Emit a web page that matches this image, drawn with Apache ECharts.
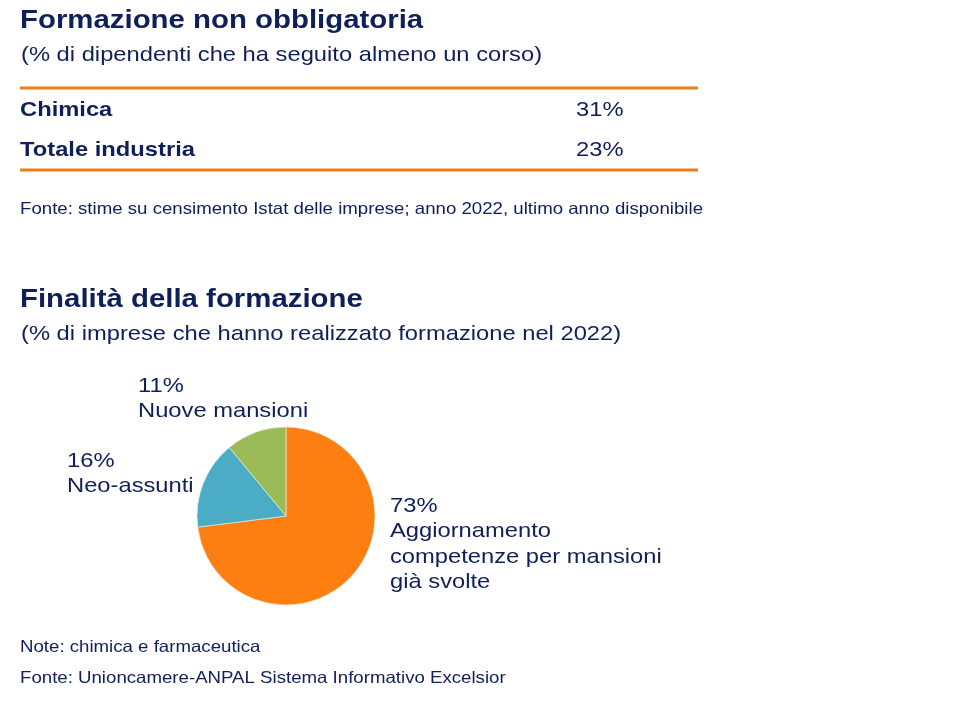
<!DOCTYPE html>
<html><head><meta charset="utf-8">
<script src="https://cdn.jsdelivr.net/npm/echarts@6/dist/echarts.min.js"></script>
<style>html,body{margin:0;padding:0;background:#fff}#c{width:960px;height:720px}</style>
</head><body><div id="c"></div>
<script>
const tableRows = ['Chimica', 'Totale industria'];
const tableValues = [31, 23];
const pieCategories = ['Aggiornamento\ncompetenze per mansioni\ngià svolte', 'Neo-assunti', 'Nuove mansioni'];
const pieValues = [73, 16, 11];

const NAVY = '#0f1f5a';
const ORANGE = '#ea7d1e';
const FONT = '"Liberation Sans", Arial, sans-serif';
const SX = 1.13;
const pieColors = ['#fd7f11', '#4bacc6', '#9bbb59'];
const labelPos = [[390, 493], [67, 448], [138, 373]];

function txt(x, y, text, font, extra) {
  return Object.assign({type:'text', x:x, y:y, scaleX:SX, originX:0, originY:0,
    style:Object.assign({text:text, font:font, fill:NAVY, textVerticalAlign:'top'}, extra || {})});
}

const chart = echarts.init(document.getElementById('c'));
const graphics = [
  txt(20, 8, 'Formazione non obbligatoria', 'bold 26px '+FONT),
  txt(21, 45, '(% di dipendenti che ha seguito almeno un corso)', '21px '+FONT),
  {type:'line', shape:{x1:20, y1:88, x2:698, y2:88}, style:{stroke:ORANGE, lineWidth:3}},
  {type:'line', shape:{x1:20, y1:170, x2:698, y2:170}, style:{stroke:ORANGE, lineWidth:3}},
  txt(20, 201, 'Fonte: stime su censimento Istat delle imprese; anno 2022, ultimo anno disponibile', '16.5px '+FONT),
  txt(20, 287, 'Finalità della formazione', 'bold 26px '+FONT),
  txt(21, 324, '(% di imprese che hanno realizzato formazione nel 2022)', '21px '+FONT),
  txt(20, 639, 'Note: chimica e farmaceutica', '16.5px '+FONT),
  txt(20, 670, 'Fonte: Unioncamere-ANPAL Sistema Informativo Excelsior', '16.5px '+FONT)
];
tableRows.forEach((r, i) => {
  graphics.push(txt(20, 100 + i*40, r, 'bold 21px '+FONT));
  graphics.push(txt(576, 100 + i*40, tableValues[i] + '%', '21px '+FONT));
});
pieCategories.forEach((n, i) => {
  graphics.push(txt(labelPos[i][0], labelPos[i][1], pieValues[i] + '%\n' + n, '21px '+FONT, {lineHeight:25.5}));
});

chart.setOption({
  animation:false,
  graphic: graphics,
  series:[{
    type:'pie',
    center:[286, 516],
    radius:[0, 89],
    startAngle:90,
    clockwise:true,
    color: pieColors,
    itemStyle:{borderColor:'#eef3e6', borderWidth:0.6},
    label:{show:false},
    labelLine:{show:false},
    emphasis:{disabled:true},
    data: pieCategories.map((n, i) => ({name:n, value:pieValues[i]}))
  }]
});
</script></body></html>
